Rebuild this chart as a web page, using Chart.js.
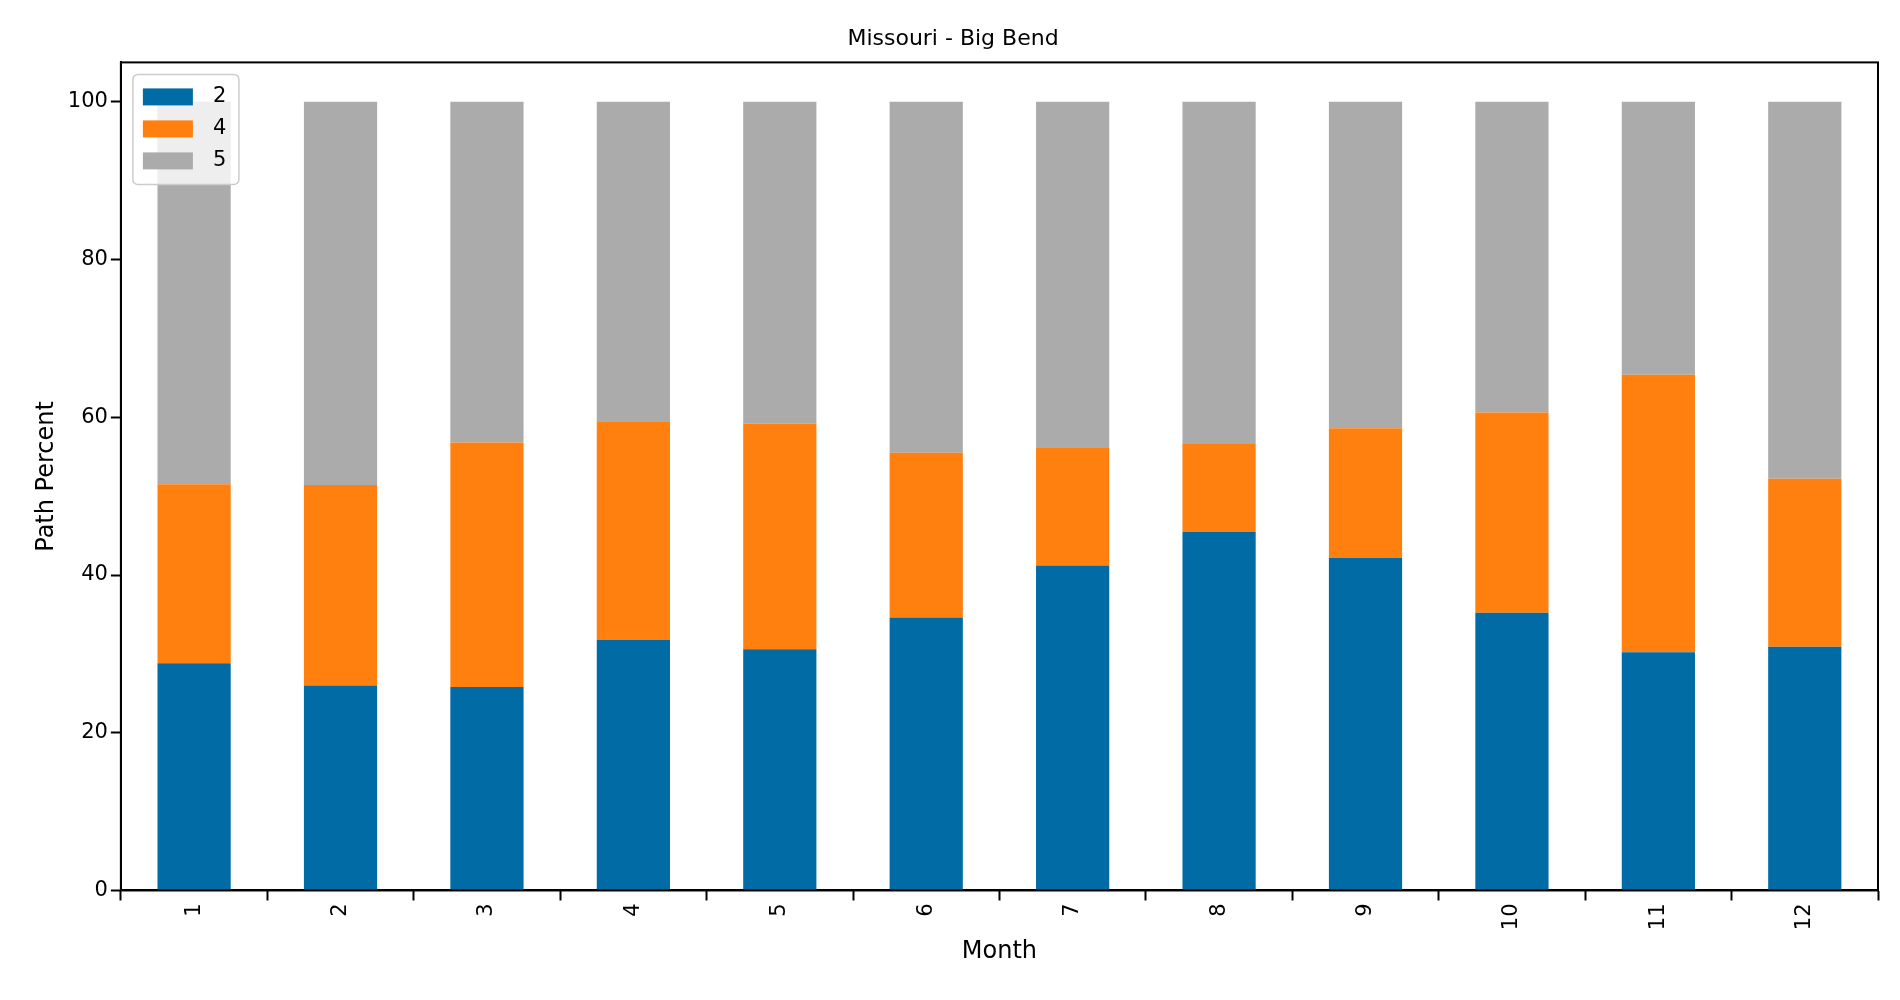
<!DOCTYPE html>
<html>
<head>
<meta charset="utf-8">
<script src="https://cdn.jsdelivr.net/npm/chart.js@4"></script>
<style>
  html, body { margin: 0; padding: 0; background: #fff; }
  #wrap { width: 1900px; height: 1000px; }
</style>
</head>
<body>
<div id="wrap"><canvas id="chart" width="1900" height="1000"></canvas></div>
<script>
// values (percent)
const months = ['1', '2', '3', '4', '5', '6', '7', '8', '9', '10', '11', '12'];
const path2 = [28.8, 26.0, 25.8, 31.8, 30.6, 34.6, 41.2, 45.5, 42.2, 35.2, 30.2, 30.9];
const path4 = [22.7, 25.4, 31.0, 27.7, 28.6, 20.9, 15.0, 11.1, 16.4, 25.4, 35.2, 21.3];
const path5 = [48.5, 48.6, 43.2, 40.5, 40.8, 44.5, 43.8, 43.4, 41.4, 39.4, 34.6, 47.8];
const yTicks = [0, 20, 40, 60, 80, 100];

const font = { family: 'DejaVu Sans', size: 21 };

// legend drawn inside the plot, top-left, like matplotlib
const innerLegend = {
  id: 'innerLegend',
  afterDraw(chart) {
    const ctx = chart.ctx, a = chart.chartArea;
    const x = a.left + 12, y = a.top + 12, rowH = 32;
    const sets = chart.data.datasets;
    ctx.save();
    ctx.fillStyle = 'rgba(255,255,255,0.8)';
    ctx.strokeStyle = '#cccccc';
    ctx.lineWidth = 1.5;
    ctx.beginPath();
    ctx.roundRect(x, y, 106, rowH * sets.length + 14, 5);
    ctx.fill(); ctx.stroke();
    ctx.font = '21px DejaVu Sans';
    ctx.textBaseline = 'middle';
    sets.forEach((d, i) => {
      const cy = y + 22 + i * rowH;
      ctx.fillStyle = d.backgroundColor;
      ctx.fillRect(x + 10, cy - 8, 50, 17);
      ctx.fillStyle = '#000';
      ctx.fillText(d.label, x + 80, cy);
    });
    ctx.restore();
  }
};

const axisGrid = { display: true, drawOnChartArea: false, drawTicks: true, tickLength: 10, tickColor: '#000', tickWidth: 2 };

new Chart(document.getElementById('chart').getContext('2d'), {
  type: 'bar',
  data: {
    labels: months,
    datasets: [
      { label: '2', data: path2, backgroundColor: '#006ba4' },
      { label: '4', data: path4, backgroundColor: '#ff800e' },
      { label: '5', data: path5, backgroundColor: '#ababab' }
    ]
  },
  options: {
    responsive: false,
    animation: false,
    layout: { padding: { left: 28, right: 22, top: 6, bottom: 30 } },
    datasets: { bar: { barPercentage: 0.5, categoryPercentage: 1.0 } },
    plugins: {
      legend: { display: false },
      tooltip: { enabled: false },
      title: { display: true, text: 'Missouri - Big Bend', color: '#000', font: { family: 'DejaVu Sans', size: 22, weight: 'normal' }, padding: { top: 20, bottom: 10 } }
    },
    scales: {
      x: {
        stacked: true,
        grid: axisGrid,
        border: { color: '#000', width: 2 },
        ticks: { color: '#000', font: font, minRotation: 90, maxRotation: 90 },
        title: { display: true, text: 'Month', color: '#000', font: { family: 'DejaVu Sans', size: 24 } }
      },
      y: {
        stacked: true,
        min: 0,
        max: 105,
        afterBuildTicks(s) { s.ticks = yTicks.map(v => ({ value: v })); },
        grid: axisGrid,
        border: { color: '#000', width: 2 },
        ticks: { color: '#000', font: font },
        title: { display: true, text: 'Path Percent', color: '#000', font: { family: 'DejaVu Sans', size: 24 } }
      }
    }
  },
  plugins: [innerLegend, {
    id: 'frame',
    afterDraw(chart) {
      const a = chart.chartArea, ctx = chart.ctx;
      ctx.save();
      ctx.strokeStyle = '#000'; ctx.lineWidth = 2;
      ctx.strokeRect(a.left, a.top, a.width, a.height);
      ctx.restore();
    }
  }]
});
</script>
</body>
</html>
